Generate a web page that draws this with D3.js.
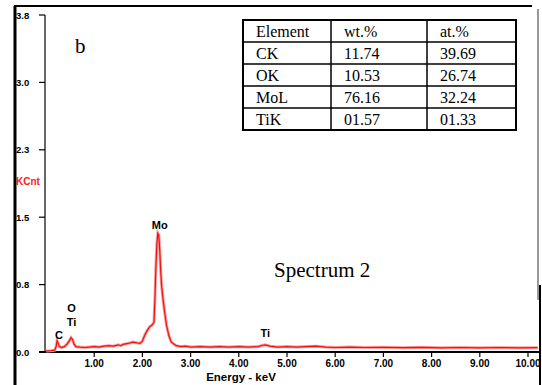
<!DOCTYPE html>
<html>
<head>
<meta charset="utf-8">
<script src="https://cdn.jsdelivr.net/npm/d3@7"></script>
<style>
  body { margin: 0; background: #fff; }
  svg { display: block; }
</style>
</head>
<body>
<div id="chart"></div>
<script>
// spectrum (keV, KCnt)
const energy = [0.00, 0.10, 0.18, 0.21, 0.23, 0.25, 0.28, 0.32, 0.38, 0.44, 0.48, 0.52, 0.55, 0.58, 0.62,
  0.70, 0.80, 0.90, 1.00, 1.10, 1.20, 1.30, 1.40, 1.50, 1.55, 1.60, 1.70, 1.80, 1.85, 1.90, 1.95,
  2.00, 2.05, 2.10, 2.15, 2.20, 2.24, 2.26, 2.28, 2.30, 2.32, 2.34, 2.36, 2.38, 2.40, 2.43, 2.46,
  2.50, 2.55, 2.60, 2.70, 2.80, 2.90, 3.00, 3.20, 3.40, 3.60, 3.80, 4.00, 4.20, 4.40, 4.50, 4.55,
  4.65, 4.80, 5.00, 5.20, 5.40, 5.60, 5.80, 6.00, 6.30, 6.60, 7.00, 7.40, 7.80, 8.20, 8.60, 9.00,
  9.40, 9.80, 10.20];
const counts = [0.010, 0.015, 0.020, 0.060, 0.125, 0.100, 0.060, 0.050, 0.060, 0.090, 0.120, 0.160, 0.140, 0.090, 0.060,
  0.055, 0.050, 0.055, 0.060, 0.055, 0.065, 0.070, 0.065, 0.080, 0.070, 0.085, 0.095, 0.110, 0.105, 0.100, 0.095,
  0.120, 0.190, 0.240, 0.280, 0.300, 0.330, 0.600, 0.950, 1.200, 1.320, 1.300, 1.130, 0.900, 0.730, 0.580, 0.450,
  0.300, 0.180, 0.110, 0.070, 0.060, 0.065, 0.055, 0.060, 0.055, 0.060, 0.055, 0.060, 0.055, 0.060, 0.075, 0.080,
  0.065, 0.055, 0.060, 0.055, 0.060, 0.065, 0.055, 0.050, 0.055, 0.050, 0.052, 0.048, 0.052, 0.047, 0.050, 0.046,
  0.050, 0.046, 0.048];

const yTicks = [0, 0.75, 1.5, 2.25, 3.0, 3.75];
const xTicks = [1, 2, 3, 4, 5, 6, 7, 8, 9, 10];

const peakLabels = ['C', 'O', 'Ti', 'Mo', 'Ti'];
const peakEnergy = [0.27, 0.53, 0.53, 2.36, 4.55];
const peakLevel = [0.14, 0.44, 0.29, 1.37, 0.17];

const tableHead = ['Element', 'wt.%', 'at.%'];
const tableElements = ['CK', 'OK', 'MoL', 'TiK'];
const tableWt = ['11.74', '10.53', '76.16', '01.57'];
const tableAt = ['39.69', '26.74', '32.24', '01.33'];

const width = 542, height = 385;
const sans = 'Liberation Sans, Arial, sans-serif';
const serif = 'Liberation Serif, Times New Roman, serif';

const svg = d3.select('#chart')
  .append('svg')
  .attr('width', width)
  .attr('height', height);

const x = d3.scaleLinear().domain([0, 10]).range([46, 528]);
const y = d3.scaleLinear().domain([0, 3.75]).range([352, 15]);

// outer frame
svg.append('line').attr('x1', 15).attr('y1', 6).attr('x2', 15).attr('y2', 385)
  .style('stroke', '#000').style('stroke-width', 3);
svg.append('line').attr('x1', 14).attr('y1', 6).attr('x2', 532).attr('y2', 6)
  .style('stroke', '#000').style('stroke-width', 2);
svg.append('line').attr('x1', 538).attr('y1', 9).attr('x2', 538).attr('y2', 300)
  .style('stroke', '#777').style('stroke-width', 1.5);
svg.append('line').attr('x1', 540).attr('y1', 285).attr('x2', 540).attr('y2', 385)
  .style('stroke', '#000').style('stroke-width', 2);

// y axis
const yAxis = svg.append('g');
yAxis.append('line')
  .attr('x1', 45).attr('y1', y(3.75)).attr('x2', 45).attr('y2', y(0))
  .style('stroke', '#000').style('stroke-width', 1.2);
yAxis.selectAll('.ytick')
  .data(yTicks)
  .enter()
  .append('line')
  .attr('x1', 39).attr('x2', 45)
  .attr('y1', d => y(d)).attr('y2', d => y(d))
  .style('stroke', '#000').style('stroke-width', 1.2);
yAxis.selectAll('.ylabel')
  .data(yTicks)
  .enter()
  .append('text')
  .attr('x', 16)
  .attr('y', d => y(d) + 3.5)
  .text(d => d.toFixed(1))
  .style('font-family', sans)
  .style('font-weight', 'bold')
  .style('font-size', '9.5px');
svg.append('text')
  .attr('x', 16).attr('y', 185)
  .text('KCnt')
  .style('fill', '#ff1a1a')
  .style('font-family', sans)
  .style('font-weight', 'bold')
  .style('font-size', '10px');

// x axis
const xAxis = svg.append('g');
xAxis.append('line')
  .attr('x1', 39).attr('y1', y(0)).attr('x2', 540).attr('y2', y(0))
  .style('stroke', '#000').style('stroke-width', 2);
xAxis.selectAll('.xtick')
  .data(xTicks)
  .enter()
  .append('line')
  .attr('x1', d => x(d)).attr('x2', d => x(d))
  .attr('y1', y(0)).attr('y2', y(0) + 5)
  .style('stroke', '#000').style('stroke-width', 1.2);
xAxis.selectAll('.xlabel')
  .data(xTicks)
  .enter()
  .append('text')
  .attr('x', d => x(d))
  .attr('y', 367)
  .attr('text-anchor', 'middle')
  .text(d => d.toFixed(2))
  .style('font-family', sans)
  .style('font-weight', 'bold')
  .style('font-size', '10px');
svg.append('text')
  .attr('x', 241).attr('y', 381)
  .attr('text-anchor', 'middle')
  .text('Energy - keV')
  .style('font-family', sans)
  .style('font-weight', 'bold')
  .style('font-size', '11.5px');

// spectrum
const spectrum = energy.map((e, i) => [e, counts[i]]);
const line = d3.line().x(d => x(d[0])).y(d => y(d[1]));

svg.append('path')
  .attr('d', line(spectrum))
  .attr('fill', 'none')
  .style('stroke', '#ff9c9c')
  .style('stroke-width', 3);
svg.append('path')
  .attr('d', line(spectrum))
  .attr('fill', 'none')
  .style('stroke', '#ee1111')
  .style('stroke-width', 1.2);

// peak labels
svg.selectAll('.peak')
  .data(peakLabels)
  .enter()
  .append('text')
  .attr('x', (d, i) => x(peakEnergy[i]))
  .attr('y', (d, i) => y(peakLevel[i]))
  .attr('text-anchor', 'middle')
  .text(d => d)
  .style('font-family', sans)
  .style('font-weight', 'bold')
  .style('font-size', '11px');

// annotations
svg.append('text')
  .attr('x', 75).attr('y', 53)
  .text('b')
  .style('font-family', serif)
  .style('font-size', '21px');
svg.append('text')
  .attr('x', 274).attr('y', 277)
  .text('Spectrum 2')
  .style('font-family', serif)
  .style('font-size', '21px');

// composition table
const colX = [243, 331, 427, 516];
const rowY = [20, 42, 64, 86, 108, 130];
const rows = [tableHead].concat(tableElements.map((el, i) => [el, tableWt[i], tableAt[i]]));

const table = svg.append('g');
table.append('rect')
  .attr('x', colX[0]).attr('y', rowY[0])
  .attr('width', colX[3] - colX[0]).attr('height', rowY[5] - rowY[0])
  .attr('fill', '#fff')
  .style('stroke', '#000').style('stroke-width', 2);
table.selectAll('.hline')
  .data(rowY.slice(1, 5))
  .enter()
  .append('line')
  .attr('x1', colX[0]).attr('x2', colX[3])
  .attr('y1', d => d).attr('y2', d => d)
  .style('stroke', '#000').style('stroke-width', 1.5);
table.selectAll('.vline')
  .data(colX.slice(1, 3))
  .enter()
  .append('line')
  .attr('x1', d => d).attr('x2', d => d)
  .attr('y1', rowY[0]).attr('y2', rowY[5])
  .style('stroke', '#000').style('stroke-width', 1.5);
rows.forEach((r, ri) => {
  r.forEach((cell, ci) => {
    table.append('text')
      .attr('x', colX[ci] + 13)
      .attr('y', rowY[ri] + 17)
      .text(cell)
      .style('font-family', serif)
      .style('font-size', '16px');
  });
});
</script>
</body>
</html>
